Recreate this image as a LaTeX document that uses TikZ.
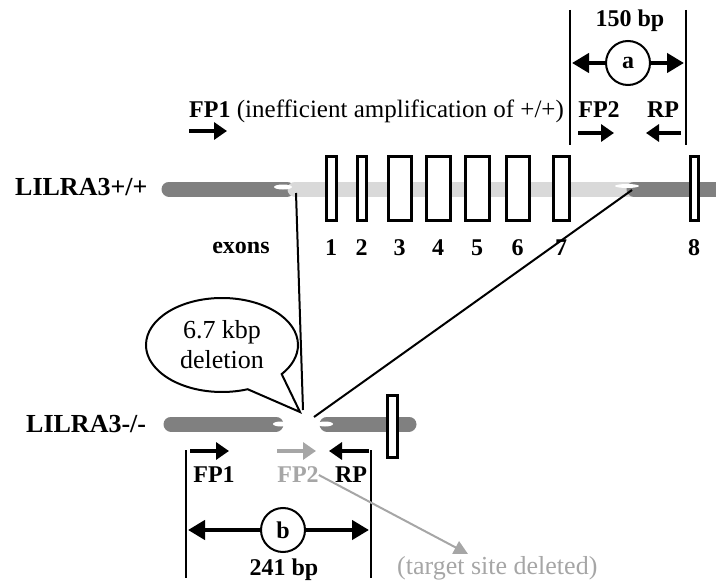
\documentclass[tikz,border=0pt]{standalone}
\usepackage{fontspec}
\setmainfont{Liberation Serif}
\usetikzlibrary{arrows.meta,positioning,shapes.callouts}
\definecolor{chrdark}{HTML}{808080}
\definecolor{chrlight}{HTML}{D9D9D9}
\definecolor{delgray}{HTML}{A6A6A6}
\tikzset{
  lbl/.style={font=\fontsize{24}{26}\selectfont\bfseries, inner sep=0pt},
  plain/.style={font=\fontsize{26}{28}\selectfont, inner sep=0pt},
  gene/.style={font=\fontsize{26}{28}\selectfont\bfseries, inner sep=0pt, anchor=west},
  chr/.style={line width=15pt, line cap=round},
  notch/.style={fill=white, draw=none},
  exon/.style={draw, fill=white, line width=3pt},
  primer/.style={line width=4.5pt, -{Triangle[length=13pt,width=17pt]}},
  spanl/.style={line width=4.5pt, {Triangle[length=17pt,width=19pt]}-},
  spanr/.style={line width=4.5pt, -{Triangle[length=17pt,width=19pt]}},
  bound/.style={line width=2pt},
  tag/.style={circle, draw, fill=white, line width=2pt, minimum size=44pt, inner sep=0pt,
    font=\fontsize{24}{26}\selectfont\bfseries}
}
\begin{document}
\begin{tikzpicture}[x=1pt,y=-1pt]
\useasboundingbox (0,0) rectangle (716,586);

% wild type
\node[gene] (wt) at (15,187) {LILRA3+/+};
\draw[chr, chrdark] (169,189) -- (287,189);
\draw[chr, chrlight] (295,189) -- (662,189);
\draw[chr, chrdark] (634,189) -- (724,189);
\fill[notch] (283,187) ellipse [x radius=9, y radius=2.5];
\fill[notch] (627,186) ellipse [x radius=12, y radius=2];
\foreach \l/\r/\n in {326/336/1, 357/366/2, 388/411/3, 426/450/4, 465/489/5, 506/529/6, 553/569/7, 690/698/8}{
  \draw[exon] (\l,157) rectangle (\r,220);
  \node[lbl] (n\n) at ({(\l+\r)/2},248) {\n};
}
\node[lbl] (exons) at (241,248) {exons};

\node[lbl, anchor=west] (fp1t) at (189,110) {FP1};
\node[plain, font=\fontsize{25}{27}\selectfont, anchor=base west] (ineff) at ([xshift=6pt]fp1t.base east) {(inefficient amplification of +/+)};
\coordinate (f1a) at (189,131);
\coordinate (f1b) at (227,131);
\draw[primer] (f1a) -- (f1b);

\coordinate (at1) at (570,10);
\coordinate (ab1) at (570,145);
\coordinate (at2) at (686,10);
\coordinate (ab2) at (686,145);
\draw[bound] (at1) -- (ab1);
\draw[bound] (at2) -- (ab2);
\node[lbl] (bp150) at (630,21) {150 bp};
\node[tag] (a) at (628,63) {a};
\draw[spanl] (572,63) -- (a.west);
\draw[spanr] (a.east) -- (684,63);
\node[lbl] (fp2t) at (599,110) {FP2};
\node[lbl] (rpt) at (663,110) {RP};
\coordinate (f2a) at (578,133);
\coordinate (f2b) at (614,133);
\coordinate (ra) at (681,133);
\coordinate (rb) at (646,133);
\draw[primer] (f2a) -- (f2b);
\draw[primer] (ra) -- (rb);

% knockout
\node[gene] (ko) at (26,424) {LILRA3-/-};
\draw[chr, chrdark] (171,424) -- (276,424);
\draw[chr, chrdark] (327,424) -- (409,424);
\fill[notch] (281,424) ellipse [x radius=8, y radius=2.5];
\fill[notch] (325,424) ellipse [x radius=8, y radius=2.5];
\draw[exon] (387,395) rectangle (397,457);

\coordinate (d1) at (296,193);
\coordinate (k1) at (303,410);
\coordinate (d2) at (632,190);
\coordinate (k2) at (314,417);
\draw[line width=2pt] (d1) -- (k1);
\draw[line width=2pt] (d2) -- (k2);

\node[ellipse callout, draw, fill=white, line width=2pt, minimum width=152pt, minimum height=94pt,
  align=center, inner sep=0pt, font=\fontsize{26}{30}\selectfont, callout pointer arc=32,
  callout absolute pointer={(300,412)}] (del) at (222,345) {6.7 kbp\\deletion};

\coordinate (g1a) at (190,451);
\coordinate (g1b) at (229,451);
\coordinate (g2a) at (277,451);
\coordinate (g2b) at (316,451);
\coordinate (gra) at (369,451);
\coordinate (grb) at (329,451);
\draw[primer] (g1a) -- (g1b);
\draw[primer, delgray] (g2a) -- (g2b);
\draw[primer] (gra) -- (grb);
\node[lbl] (fp1b) at (214,475) {FP1};
\node[lbl, delgray] (fp2b) at (298,475) {FP2};
\node[lbl] (rpb) at (351,475) {RP};

\coordinate (bt1) at (186,450);
\coordinate (bb1) at (186,578);
\coordinate (bt2) at (371,450);
\coordinate (bb2) at (371,578);
\draw[bound] (bt1) -- (bb1);
\draw[bound] (bt2) -- (bb2);
\node[tag] (b) at (283,530) {b};
\draw[spanl] (188,530) -- (b.west);
\draw[spanr] (b.east) -- (369,530);
\node[lbl] (bp241) at (284,570) {241 bp};

\node[plain, anchor=west, text=delgray] (lost) at (397,568) {(target site deleted)};
\draw[line width=2pt, delgray, -{Triangle[length=14pt,width=14pt]}] (fp2b.east) -- (468,554);
\end{tikzpicture}
\end{document}
